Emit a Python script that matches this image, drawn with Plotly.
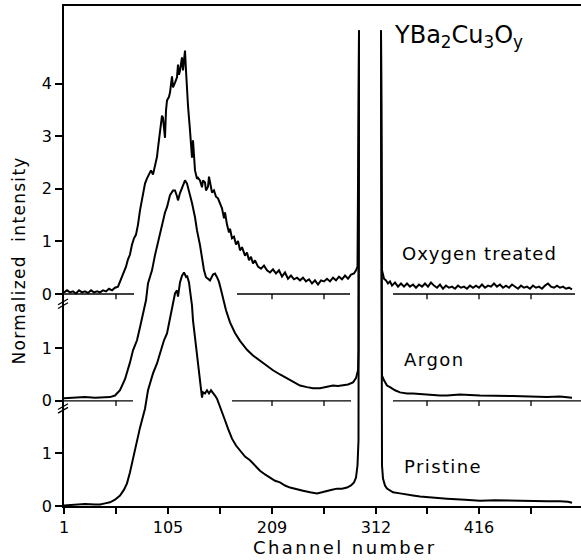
import plotly.graph_objects as go

# ---------------- data ----------------
pristine_ch = [1, 12, 22, 32, 37, 42, 47, 52, 57, 61, 64, 67, 69, 72, 77, 82, 85, 90, 94, 97,
               101, 104, 107, 109, 112, 114, 115, 117, 119, 121, 123, 124, 126, 127, 129, 130,
               132, 134, 136, 137, 139, 140, 142, 144, 146, 148, 150, 152, 154, 157, 160, 162,
               165, 169, 173, 177, 182, 187, 192, 197, 202, 207, 212, 217, 222, 227, 234, 240,
               247, 254, 259, 264, 269, 274, 279, 284, 288, 291, 293, 294.5, 295.5, 296, None,
               318, 318.5, 319, 320, 322, 324, 327, 330, 337, 342, 350, 357, 367, 384, 402, 417,
               432, 450, 467, 484, 497, 505, 509]
pristine_val = [0.01, 0.03, 0.04, 0.03, 0.03, 0.05, 0.07, 0.12, 0.20, 0.31, 0.43, 0.64, 0.81,
                1.11, 1.49, 1.85, 2.20, 2.52, 2.71, 2.90, 3.15, 3.28, 3.56, 3.72, 4.04, 4.10,
                3.98, 4.25, 4.38, 4.44, 4.36, 4.38, 4.25, 4.10, 3.81, 3.53, 3.20, 2.90, 2.48,
                2.33, 2.06, 2.16, 2.14, 2.20, 2.14, 2.20, 2.16, 2.10, 2.04, 1.87, 1.74, 1.63,
                1.47, 1.28, 1.15, 1.06, 0.94, 0.87, 0.77, 0.67, 0.60, 0.54, 0.48, 0.45, 0.39,
                0.35, 0.31, 0.29, 0.26, 0.24, 0.26, 0.29, 0.31, 0.33, 0.33, 0.35, 0.39, 0.45,
                0.54, 0.77, 1.25, 9.04, None,
                9.04, 1.25, 0.77, 0.52, 0.39, 0.33, 0.29, 0.26, 0.24, 0.22, 0.20, 0.18, 0.16,
                0.14, 0.12, 0.10, 0.11, 0.10, 0.09, 0.09, 0.09, 0.08, 0.06]

argon_ch = [1, 12, 22, 32, 42, 47, 52, 57, 62, 65, 67, 70, 74, 77, 80, 83, 85, 87, 89, 92, 95,
            99, 102, 104, 107, 110, 112, 114, 115, 117, 119, 121, 122, 124, 125, 127, 129, 132,
            134, 137, 139, 141, 143, 145, 147, 150, 152, 154, 156, 158, 160, 163, 167, 172, 177,
            184, 190, 197, 204, 210, 217, 224, 230, 237, 244, 250, 257, 264, 270, 275, 280, 285,
            290, 293, 295, 295.5, 296, None,
            318, 318.5, 319, 321, 324, 327, 332, 337, 344, 350, 362, 377, 384, 397, 417, 432,
            450, 467, 484, 497, 509]
argon_val = [0.05, 0.06, 0.07, 0.06, 0.07, 0.07, 0.10, 0.20, 0.41, 0.58, 0.73, 0.96, 1.15,
             1.40, 1.66, 1.91, 2.23, 2.35, 2.48, 2.77, 3.01, 3.39, 3.58, 3.68, 3.91, 4.00, 4.00,
             3.89, 3.81, 3.95, 4.06, 4.17, 4.19, 4.13, 4.06, 3.91, 3.76, 3.49, 3.24, 2.96, 2.73,
             2.48, 2.35, 2.31, 2.29, 2.40, 2.42, 2.35, 2.26, 2.11, 1.93, 1.72, 1.49, 1.29, 1.14,
             0.97, 0.86, 0.76, 0.67, 0.58, 0.50, 0.43, 0.37, 0.29, 0.26, 0.24, 0.24, 0.26, 0.29,
             0.28, 0.29, 0.31, 0.35, 0.43, 0.58, 0.96, 7.04, None,
             7.04, 0.77, 0.48, 0.39, 0.29, 0.26, 0.20, 0.16, 0.14, 0.14, 0.12, 0.10, 0.10, 0.12,
             0.10, 0.10, 0.09, 0.08, 0.07, 0.08, 0.06]

oxygen_ch = [1, 4, 7, 10, 13, 16, 19, 22, 25, 28, 31, 34, 37, 40, 43, 46, 49, 52, 55, 57, 59,
             61, 63, 65, 67, 69, 71, 73, 75, 77, 79, 80, 82, 84, 86, 88, 90, 92, 94, 95, 97, 99,
             100, 101, 102, 103, 104, 106, 107, 109, 110, 112, 114, 115, 116, 117, 119, 120, 121,
             122, 123, 124, 125, 127, 129, 130, 131, 132, 134, 135, 137, 139, 140, 142, 143, 145,
             146, 147, 149, 151, 153, 155, 157, 159, 161, 162, 164, 166, 167, 169, 171, 173, 175,
             177, 179, 182, 184, 186, 188, 190, 192, 195, 198, 201, 204, 207, 210, 213, 216, 219,
             222, 225, 228, 231, 234, 237, 240, 243, 246, 249, 252, 255, 258, 261, 264, 267, 270,
             273, 276, 279, 282, 285, 288, 291, 293, 294.5, 296, None,
             318, 318.5, 319, 321, 323, 325, 327, 329, 332, 335, 338, 341, 344, 347, 350, 353,
             356, 359, 362, 365, 368, 371, 374, 377, 380, 383, 386, 389, 392, 395, 398, 401, 404,
             407, 410, 413, 416, 419, 422, 425, 428, 431, 434, 437, 440, 443, 446, 449, 452, 455,
             458, 461, 464, 467, 470, 473, 476, 479, 482, 485, 488, 491, 494, 497, 500, 503, 506,
             509]
oxygen_val = [0.03, 0.07, 0.03, 0.05, 0.01, 0.07, 0.03, 0.05, 0.02, 0.07, 0.03, 0.05, 0.03,
              0.07, 0.05, 0.10, 0.07, 0.12, 0.14, 0.24, 0.31, 0.41, 0.52, 0.66, 0.75, 0.94, 1.06,
              1.13, 1.32, 1.59, 1.82, 1.95, 2.10, 2.20, 2.29, 2.35, 2.27, 2.42, 2.61, 2.78, 3.07,
              3.39, 3.35, 3.20, 2.97, 3.49, 3.68, 3.75, 3.83, 4.14, 3.93, 4.02, 4.12, 4.36, 4.17,
              4.25, 4.50, 4.25, 4.40, 4.63, 4.25, 3.87, 3.58, 3.11, 2.59, 2.92, 2.63, 2.35, 2.19,
              2.21, 2.16, 2.03, 2.16, 2.12, 1.97, 2.04, 2.23, 2.12, 1.93, 1.97, 1.85, 1.82, 1.72,
              1.63, 1.44, 1.55, 1.32, 1.17, 1.24, 1.06, 1.09, 0.94, 1.01, 0.83, 0.89, 0.73, 0.79,
              0.64, 0.71, 0.58, 0.64, 0.52, 0.48, 0.54, 0.45, 0.41, 0.47, 0.39, 0.45, 0.33, 0.41,
              0.29, 0.35, 0.28, 0.31, 0.26, 0.31, 0.24, 0.28, 0.20, 0.26, 0.18, 0.26, 0.24, 0.29,
              0.24, 0.31, 0.26, 0.33, 0.28, 0.35, 0.29, 0.37, 0.39, 0.45, 0.52, 5.01, None,
              5.01, 0.60, 0.45, 0.29, 0.26, 0.20, 0.24, 0.16, 0.22, 0.14, 0.20, 0.14, 0.20, 0.14,
              0.18, 0.12, 0.18, 0.14, 0.20, 0.14, 0.22, 0.16, 0.12, 0.18, 0.10, 0.16, 0.12, 0.14,
              0.10, 0.16, 0.12, 0.14, 0.10, 0.16, 0.12, 0.16, 0.12, 0.18, 0.12, 0.16, 0.14, 0.20,
              0.14, 0.18, 0.12, 0.16, 0.12, 0.18, 0.14, 0.10, 0.16, 0.12, 0.14, 0.10, 0.16, 0.12,
              0.14, 0.10, 0.16, 0.20, 0.14, 0.12, 0.16, 0.12, 0.14, 0.10, 0.12, 0.09]

series_names = ["Pristine", "Argon", "Oxygen treated"]
x_label_vals = [1, 105, 209, 313, 416]
x_label_text = ["1", "105", "209", "312", "416"]
x_minor_vals = [53, 157, 261, 364, 468]
y_tick_labels = [["0", "1"], ["0", "1"], ["0", "1", "2", "3", "4"]]
formula = "YBa<sub>2</sub>Cu<sub>3</sub>O<sub>y</sub>"

# ---------------- layout constants ----------------
offsets = [0.0, 2.0, 4.03]
FONT = "DejaVu Sans"
LW = 2.0


def spaced(txt, px):
    return '<span style="letter-spacing:%spx">%s</span>' % (px, txt)


fig = go.Figure()


def shift(vals, off):
    return [None if v is None else v + off for v in vals]


for chs, vals, off, name in [(pristine_ch, pristine_val, offsets[0], series_names[0]),
                             (argon_ch, argon_val, offsets[1], series_names[1]),
                             (oxygen_ch, oxygen_val, offsets[2], series_names[2])]:
    fig.add_trace(go.Scatter(x=chs, y=shift(vals, off), mode="lines", name=name,
                             connectgaps=False, line=dict(color="black", width=LW),
                             showlegend=False, hoverinfo="skip"))

# baselines (with ticks) for the offset panels
segments = {1: [(1, 70), (169, 288), (330, 518)], 2: [(1, 71), (174, 287), (330, 512)]}
tick_len = 0.1
all_ticks = sorted(x_label_vals + x_minor_vals)
bx, by = [], []
for k in (1, 2):
    off = offsets[k]
    for a, b in segments[k]:
        bx += [a, b, None]
        by += [off, off, None]
        for t in all_ticks:
            if a < t < b:
                bx += [t, t, None]
                by += [off, off - tick_len, None]
fig.add_trace(go.Scatter(x=bx, y=by, mode="lines", line=dict(color="black", width=1.3),
                         showlegend=False, hoverinfo="skip", connectgaps=False))

# y ticks
yt_vals, yt_text = [], []
for off, labs in zip(offsets, y_tick_labels):
    for i, lab in enumerate(labs):
        yt_vals.append(off + i)
        yt_text.append(lab)

# axis-break marks
shapes = []
for yb in [offsets[1] - 0.18, offsets[2] - 0.22]:
    for d in (0.0, 0.07):
        shapes.append(dict(type="line", xref="paper", yref="y",
                           x0=-6 / 517, x1=4 / 517, y0=yb - 0.055 + d, y1=yb + 0.055 + d,
                           line=dict(color="black", width=1.3), layer="above"))

annotations = [
    dict(text=formula, x=329, y=8.93, xref="x", yref="y", xanchor="left", yanchor="middle",
         showarrow=False, font=dict(size=24, family=FONT, color="black")),
    dict(text=spaced(series_names[2], 1), x=337, y=4.80, xref="x", yref="y", xanchor="left",
         yanchor="middle", showarrow=False, font=dict(size=18, family=FONT, color="black")),
    dict(text=spaced(series_names[1], 1.5), x=339, y=2.79, xref="x", yref="y", xanchor="left",
         yanchor="middle", showarrow=False, font=dict(size=18, family=FONT, color="black")),
    dict(text=spaced(series_names[0], 1.4), x=339, y=0.75, xref="x", yref="y", xanchor="left",
         yanchor="middle", showarrow=False, font=dict(size=18, family=FONT, color="black")),
    dict(text=spaced("Channel number", 2.4), x=(344 - 64) / 517, y=-0.082, xref="paper",
         yref="paper", xanchor="center", yanchor="middle", showarrow=False,
         font=dict(size=18, family=FONT, color="black")),
    dict(text=spaced("Normalized  intensity", 1.3), x=(18 - 64) / 517, y=0.491, xref="paper",
         yref="paper", xanchor="center", yanchor="middle", textangle=-90, showarrow=False,
         font=dict(size=17, family=FONT, color="black")),
]

fig.update_layout(
    width=581, height=560,
    margin=dict(l=64, r=0, t=6, b=54),
    paper_bgcolor="white", plot_bgcolor="white",
    font=dict(family=FONT, color="black", size=16),
    shapes=shapes, annotations=annotations,
    xaxis=dict(range=[1, 518], tickvals=x_label_vals, ticktext=x_label_text,
               showline=True, linecolor="black", linewidth=1.5, mirror=True,
               ticks="outside", ticklen=6, tickwidth=1.5, tickcolor="black",
               minor=dict(tickvals=x_minor_vals, ticks="outside", ticklen=6, tickwidth=1.5,
                          tickcolor="black", showgrid=False),
               showgrid=False, zeroline=False, tickfont=dict(size=16, family=FONT)),
    yaxis=dict(range=[0, 500 / 52.6], tickvals=yt_vals, ticktext=yt_text,
               showline=True, linecolor="black", linewidth=1.5,
               ticks="outside", ticklen=7, tickwidth=1.5, tickcolor="black",
               showgrid=False, zeroline=False, tickfont=dict(size=16, family=FONT)),
)

fig.write_html("out.html", config={"displayModeBar": False},
               post_script="document.body.style.margin='0';")
